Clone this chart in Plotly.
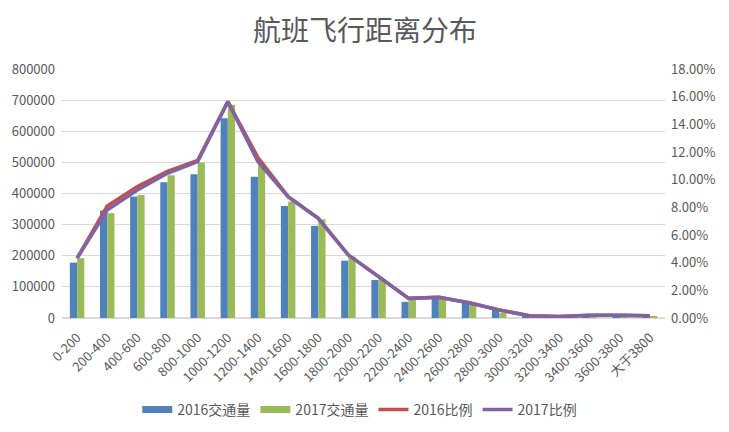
import plotly.graph_objects as go

categories = ["0-200", "200-400", "400-600", "600-800", "800-1000", "1000-1200",
              "1200-1400", "1400-1600", "1600-1800", "1800-2000", "2000-2200",
              "2200-2400", "2400-2600", "2600-2800", "2800-3000", "3000-3200",
              "3200-3400", "3400-3600", "3600-3800", "大于3800"]

traffic_2016 = [178000, 345000, 390000, 436000, 462000, 642000, 454000, 360000,
                296000, 184000, 122000, 52000, 66000, 50000, 31000, 5000,
                2500, 4000, 4000, 4000]
traffic_2017 = [192000, 337000, 395000, 459000, 500000, 685000, 492000, 374000,
                317000, 197000, 125000, 58000, 63000, 42000, 17000, 4000,
                2000, 3000, 3000, 5000]
ratio_2016 = [0.0432, 0.081, 0.095, 0.106, 0.114, 0.1564, 0.116, 0.0877, 0.072,
              0.0455, 0.0299, 0.0142, 0.015, 0.011, 0.0058, 0.0017, 0.001,
              0.002, 0.002, 0.0017]
ratio_2017 = [0.0432, 0.078, 0.0925, 0.1046, 0.113, 0.1564, 0.113, 0.0877, 0.072,
              0.0455, 0.0299, 0.0142, 0.015, 0.011, 0.0058, 0.0017, 0.001,
              0.002, 0.002, 0.0017]

BLUE, GREEN, RED, PURPLE = "#4F81BD", "#9BBB59", "#C0504D", "#8064A2"

fig = go.Figure()
fig.add_trace(go.Bar(name="2016交通量", x=categories, y=traffic_2016, showlegend=False,
                     marker=dict(color=BLUE, line=dict(width=0))))
fig.add_trace(go.Bar(name="2017交通量", x=categories, y=traffic_2017, showlegend=False,
                     marker=dict(color=GREEN, line=dict(width=0))))
fig.add_trace(go.Scatter(name="2016比例", x=categories, y=ratio_2016, yaxis="y2",
                         mode="lines", line=dict(color=RED, width=3.5), showlegend=False))
fig.add_trace(go.Scatter(name="2017比例", x=categories, y=ratio_2017, yaxis="y2",
                         mode="lines", line=dict(color=PURPLE, width=3.5), showlegend=False))

# legend entries (Excel-style wide rectangle swatches)
for name, color, w in [("2016交通量", BLUE, 7), ("2017交通量", GREEN, 7),
                       ("2016比例", RED, 3.5), ("2017比例", PURPLE, 3.5)]:
    fig.add_trace(go.Scatter(name=name, x=[None], y=[None], mode="lines",
                             line=dict(color=color, width=w), showlegend=True))

tickfont = dict(family="Noto Sans CJK SC, Noto Sans, sans-serif", size=13, color="#595959")

# page body has an 8px margin; compensate so the plot lands where the reference has it
fig.update_layout(
    width=729, height=432,
    paper_bgcolor="white", plot_bgcolor="white",
    margin=dict(l=54, r=72, t=61, b=122, autoexpand=False),
    title=dict(text="航班飞行距离分布", x=(365 - 8) / 729, xanchor="center",
               y=(432 - 23) / 432, yanchor="middle", yref="container",
               font=dict(family="Noto Sans CJK SC, sans-serif", size=28, color="#595959")),
    barmode="group", bargap=0.52, bargroupgap=0,
    xaxis=dict(type="category", tickangle=-45, tickfont=tickfont, showgrid=False,
               showline=True, linecolor="#D9D9D9", ticks="", automargin=False,
               ticklabelstandoff=6),
    yaxis=dict(range=[0, 800000], dtick=100000, tickformat="d", tickfont=tickfont,
               showgrid=True, gridcolor="#D9D9D9", gridwidth=1, zeroline=True,
               zerolinecolor="#D9D9D9", ticks="", automargin=False,
               ticklabelstandoff=6),
    yaxis2=dict(range=[0, 0.18], dtick=0.02, tickformat=".2%", overlaying="y",
                side="right", showgrid=False, zeroline=False, tickfont=tickfont,
                ticks="", automargin=False, ticklabelstandoff=5),
    legend=dict(orientation="h", x=(368 - 8) / 729, xanchor="center",
                y=(432 - 402) / 432, yanchor="middle", yref="container",
                font=dict(family="Noto Sans CJK SC, sans-serif", size=14, color="#595959"),
                traceorder="normal", itemwidth=30),
    showlegend=True,
)

fig.write_html("out.html")
